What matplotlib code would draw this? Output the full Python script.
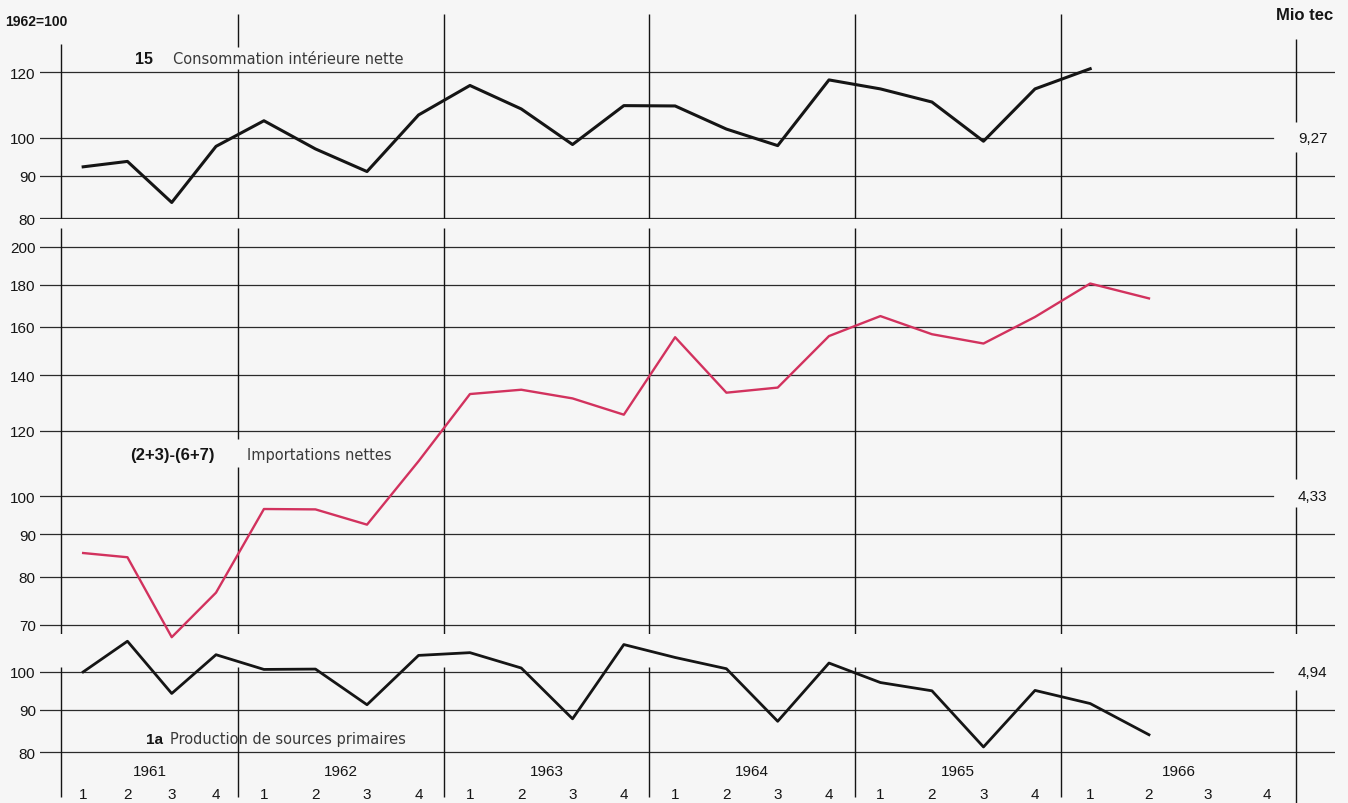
import numpy as np
import matplotlib.pyplot as plt
from matplotlib.ticker import NullLocator

# quarters 1961 Q1 .. 1966 Q2, index 1962 = 100
years = [1961, 1962, 1963, 1964, 1965, 1966]
quarters = [1, 2, 3, 4]

consommation = [92.3, 93.7, 83.6, 97.7, 104.9, 97.0, 91.1, 106.6, 115.7, 108.4, 98.2, 109.4,
                109.3, 102.5, 97.9, 117.5, 114.6, 110.5, 99.1, 114.6, 121.2]
importations = [85.4, 84.4, 67.6, 76.5, 96.5, 96.4, 92.4, 110.2, 132.8, 134.4, 131.2, 125.4,
                155.5, 133.3, 135.2, 156.0, 164.9, 156.8, 152.8, 164.5, 180.5, 173.2]
production = [100.0, 108.9, 94.2, 104.9, 100.7, 100.8, 91.3, 104.7, 105.5, 101.1, 87.8, 107.9,
              104.1, 100.9, 87.2, 102.5, 97.1, 94.9, 81.2, 95.0, 91.6, 84.0]

# 1962 base in Mio tec
base_cons = '9,27'
base_imp = '4,33'
base_prod = '4,94'

ticks_cons = [80, 90, 100, 120]
ticks_imp = [70, 80, 90, 100, 120, 140, 160, 180, 200]
ticks_prod = [80, 90, 100]

W, H = 1348, 804
bg = '#f6f6f6'
ink = '#151515'
grid_c = '#2b2b2b'
red = '#d2325e'

plt.rcParams['font.family'] = ['Liberation Sans', 'DejaVu Sans']

# time axis: the year columns are not drawn equally wide
year_edges = np.arange(1961, 1968)
col_width = np.array([177, 206, 205, 205, 206, 235])
u_edges = np.concatenate([[0], np.cumsum(col_width)])


def fwd(x):
    x = np.asarray(x, dtype=float)
    u = np.interp(x, year_edges, u_edges)
    u = np.where(x < 1961, (x - 1961) * col_width[0], u)
    u = np.where(x > 1967, u_edges[-1] + (x - 1967) * col_width[-1], u)
    return u


def inv(u):
    u = np.asarray(u, dtype=float)
    x = np.interp(u, u_edges, year_edges)
    x = np.where(u < 0, 1961 + u / col_width[0], x)
    x = np.where(u > u_edges[-1], 1967 + (u - u_edges[-1]) / col_width[-1], x)
    return x


t = np.array([y + (q - 0.5) / 4 for y in years for q in quarters])

fig = plt.figure(figsize=(W / 100, H / 100), dpi=100, facecolor=bg)


def make_ax(top, bottom, ylim, ticks):
    ax = fig.add_axes([40 / W, 1 - bottom / H, 1295 / W, (bottom - top) / H])
    ax.set_facecolor('none')
    ax.set_xscale('function', functions=(fwd, inv))
    ax.set_yscale('log')
    ax.set_xlim(1961 - 21 / 177, 1967 + 39 / 235)
    ax.set_ylim(*ylim)
    ax.set_xticks([])
    ax.xaxis.set_minor_locator(NullLocator())
    ax.yaxis.set_minor_locator(NullLocator())
    ax.set_yticks(ticks)
    ax.set_yticklabels([str(v) for v in ticks], fontsize=11, color=ink)
    ax.tick_params(axis='y', length=0, pad=3)
    for s in ax.spines.values():
        s.set_visible(False)
    for v in ticks:
        ax.axhline(v, xmin=0, xmax=(1233 / 1295 if v == 100 else 1), color=grid_c, lw=0.9, zorder=1)
    return ax


def vline(ax, x, lo, hi):
    ax.vlines([x], lo, hi, color=ink, lw=1.0, zorder=1)


def fx(px):
    return px / W


def fy(py):
    return 1 - py / H


# top panel: consommation
ax1 = make_ax(15, 220, (79.85, 141.1), ticks_cons)
for x in [1963, 1964, 1965, 1966]:
    vline(ax1, x, 79.85, 141.1)
vline(ax1, 1962, 79.85, 121.1)
vline(ax1, 1962, 128.8, 141.1)
vline(ax1, 1961, 79.85, 129.8)
vline(ax1, 1967, 79.85, 96.2)
vline(ax1, 1967, 104.5, 131.7)
ax1.plot(t[:len(consommation)], consommation, color=ink, lw=2.2, zorder=3, clip_on=False)

# middle panel: importations nettes
ax2 = make_ax(229, 635, (68.2, 210.6), ticks_imp)
for x in [1961, 1963, 1964, 1965, 1966]:
    vline(ax2, x, 68.2, 210.6)
vline(ax2, 1962, 68.2, 108.4)
vline(ax2, 1962, 117.2, 210.6)
vline(ax2, 1967, 68.2, 97.0)
vline(ax2, 1967, 104.8, 210.6)
ax2.plot(t[:len(importations)], importations, color=red, lw=1.7, zorder=3, clip_on=False)

# bottom panel: production
ax3 = make_ax(636, 804, (69.5, 110.8), ticks_prod)
for x in year_edges[:-1]:
    vline(ax3, x, 70.7, 101.4)
vline(ax3, 1967, 69.5, 95.0)
ax3.plot(t[:len(production)], production, color=ink, lw=2.0, zorder=3, clip_on=False)

for y in years:
    ax3.text(y + 0.5, 76.0, str(y), ha='center', va='center', fontsize=11, color=ink)
    for q in quarters:
        ax3.text(y + (q - 0.5) / 4, 71.3, str(q), ha='center', va='center', fontsize=11, color=ink)

# headers
fig.text(fx(5), fy(22), '1962=100', fontsize=10, fontweight='bold', color=ink, va='center')
fig.text(fx(1333), fy(15), 'Mio tec', fontsize=12, fontweight='bold', color=ink, va='center', ha='right')

# base values at the right edge
fig.text(fx(1298), fy(139), base_cons, fontsize=11, color=ink, va='center', ha='left')
fig.text(fx(1298), fy(497), base_imp, fontsize=11, color=ink, va='center', ha='left')
fig.text(fx(1298), fy(673), base_prod, fontsize=11, color=ink, va='center', ha='left')

# series captions
cap = '#3a3a3a'
fig.text(fx(135), fy(60), '15', fontsize=11.5, fontweight='bold', color=ink, va='center')
fig.text(fx(173), fy(60), 'Consommation intérieure nette', fontsize=10.5, color=cap, va='center',
         family='DejaVu Sans')

fig.text(fx(130), fy(456), '(2+3)-(6+7)', fontsize=12, fontweight='bold', color=ink, va='center')
fig.text(fx(247), fy(456), 'Importations nettes', fontsize=10.5, color=cap, va='center',
         family='DejaVu Sans')

fig.text(fx(146), fy(740), '1a', fontsize=11, fontweight='bold', color=ink, va='center')
fig.text(fx(170), fy(740), 'Production de sources primaires', fontsize=10.5, color=cap, va='center',
         family='DejaVu Sans')

fig.savefig('out.png', dpi=100, facecolor=bg)
